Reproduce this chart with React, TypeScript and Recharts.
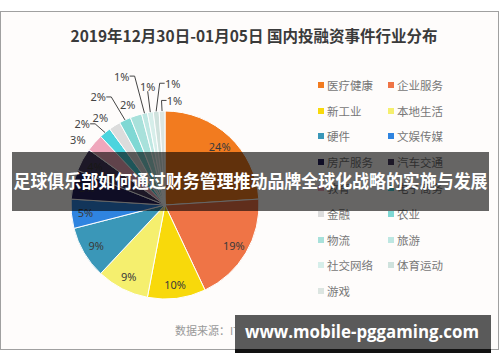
import React from "react"
import { PieChart, Pie, Cell, Legend } from "recharts"

const categories: string[] = [
  "医疗健康", "企业服务", "新工业", "本地生活", "硬件", "文娱传媒", "房产服务", "汽车交通",
  "教育", "电子商务", "金融", "农业", "物流", "旅游", "社交网络", "体育运动", "游戏",
]
const shares: number[] = [24, 19, 10, 9, 9, 5, 5, 4, 3, 2, 2, 2, 2, 1, 1, 1, 1]
const colors: string[] = [
  "#F27B1F", "#EF7446", "#F8D90B", "#F5EF6E", "#3A97B8", "#2F84E0", "#27215E", "#4A3E62",
  "#EFA7BC", "#4CD4DE", "#DCDCDC", "#7FD8D4", "#A8E1DB", "#BEE7E2", "#D6EEEA", "#CFE2DD", "#DCE5E1",
]

const TITLE = "2019年12月30日-01月05日 国内投融资事件行业分布"
const BANNER = "足球俱乐部如何通过财务管理推动品牌全球化战略的实施与发展"
const SOURCE = "数据来源：IT桔子 © Itjuzi.com"
const SITE = "www.mobile-pggaming.com"

// manual label placement for the small slices (radius, clockwise shift in degrees, leader line)
const outerLabels: Record<string, { r: number; shift: number; line: boolean }> = {
  教育: { r: 109, shift: -4.5, line: false },
  电子商务: { r: 116, shift: -6, line: true },
  金融: { r: 109, shift: -4, line: false },
  农业: { r: 127, shift: -6.5, line: true },
  物流: { r: 107, shift: -2.4, line: false },
  旅游: { r: 136, shift: -6, line: true },
  社交网络: { r: 120, shift: 0.7, line: true },
  体育运动: { r: 122, shift: 9, line: true },
  游戏: { r: 105, shift: 7, line: true },
}

const data = categories.map((name, i) => ({ name, value: shares[i] }))

const RADIAN = Math.PI / 180
const CJK = '"Noto Sans CJK SC", "Noto Sans", sans-serif'

const renderLabel = (props: any) => {
  const { cx, cy, midAngle, outerRadius, name, value } = props
  const cfg = outerLabels[name]
  const text = `${value}%`
  if (!cfg) {
    const r = outerRadius * 0.85
    const x = cx + r * Math.cos(-midAngle * RADIAN)
    const y = cy + r * Math.sin(-midAngle * RADIAN)
    return (
      <text x={x} y={y} fill="#3a3a3a" fontSize={11} fontFamily="Noto Sans" textAnchor="middle" dominantBaseline="central">
        {text}
      </text>
    )
  }
  const a = midAngle - cfg.shift
  const x = cx + cfg.r * Math.cos(-a * RADIAN)
  const y = cy + cfg.r * Math.sin(-a * RADIAN)
  const ex = cx + outerRadius * Math.cos(-midAngle * RADIAN)
  const ey = cy + outerRadius * Math.sin(-midAngle * RADIAN)
  let line = null
  if (cfg.line) {
    let pts: string
    if (Math.abs(x - ex) < 6) {
      pts = `${x},${y + 5} ${ex},${ey}`
    } else if (x < ex) {
      pts = `${x + 8},${y} ${x + 13},${y} ${ex},${ey}`
    } else {
      pts = `${x - 8},${y} ${x - 13},${y} ${ex},${ey}`
    }
    line = <polyline points={pts} fill="none" stroke="#444" strokeWidth={1} />
  }
  return (
    <g>
      {line}
      <text x={x} y={y} fill="#444" fontSize={11} fontFamily="Noto Sans" textAnchor="middle" dominantBaseline="central">
        {text}
      </text>
    </g>
  )
}

// legend keeps the slice order (the payload comes back sorted)
const renderLegend = () => (
  <div style={{ display: "grid", gridTemplateColumns: "70px 70px", gridAutoRows: "25.8px" }}>
    {categories.map((name, i) => (
      <div key={`lg-${i}`} style={{ display: "flex", alignItems: "center", height: 25.8 }}>
        <span style={{ width: 6, height: 6, background: colors[i], display: "inline-block", marginRight: 3 }} />
        <span style={{ fontFamily: CJK, fontSize: 11.5, color: "#777", lineHeight: "14px" }}>{name}</span>
      </div>
    ))}
  </div>
)

export default function App() {
  return (
    <div style={{ position: "absolute", left: 0, top: 0, width: 500, height: 362, background: "#fff", overflow: "hidden" }}>
      <div
        style={{
          position: "absolute", left: 0, top: 11, width: 497, height: 337,
          border: "1px solid #a0a0a0", background: "#fefcfb",
        }}
      />
      <div
        style={{
          position: "absolute", left: 0, top: 24, width: 508, textAlign: "center",
          fontFamily: CJK, fontWeight: 700, fontSize: 15.5, color: "#3a3a3a", lineHeight: "22px",
        }}
      >
        {TITLE}
      </div>
      <div style={{ position: "absolute", left: 0, top: 0 }}>
        <PieChart width={500} height={362}>
          <Pie
            data={data}
            dataKey="value"
            nameKey="name"
            cx={160}
            cy={200}
            outerRadius={94}
            startAngle={90}
            endAngle={-270}
            stroke="#fff"
            strokeWidth={1}
            labelLine={false}
            label={renderLabel}
            isAnimationActive={false}
          >
            {data.map((entry, index) => (
              <Cell key={`cell-${index}`} fill={colors[index % colors.length]} />
            ))}
          </Pie>
          <Legend
            content={renderLegend}
            wrapperStyle={{ position: "absolute", left: 318, top: 72, width: 150 }}
          />
        </PieChart>
      </div>
      <div
        style={{
          position: "absolute", left: 175, top: 322, fontFamily: CJK, fontSize: 11, color: "#999", lineHeight: "16px",
        }}
      >
        {SOURCE}
      </div>
      <div style={{ position: "absolute", left: 12, top: 152, width: 477, height: 59, background: "rgba(0,0,0,0.6)" }}>
        <svg width={477} height={59} style={{ display: "block" }}>
          <text
            x={1.5}
            y={36}
            textLength={474}
            lengthAdjust="spacingAndGlyphs"
            fill="#fff"
            fontFamily={CJK}
            fontWeight={700}
            fontSize={18}
          >
            {BANNER}
          </text>
        </svg>
      </div>
      <div style={{ position: "absolute", left: 235, top: 315, width: 256, height: 34, background: "#5a5a5a", borderBottom: "4px solid #111" }}>
        <svg width={256} height={34} style={{ display: "block" }}>
          <text
            x={10}
            y={23}
            textLength={234}
            lengthAdjust="spacingAndGlyphs"
            fill="#fff"
            fontFamily='"Open Sans", sans-serif'
            fontWeight={700}
            fontSize={17}
          >
            {SITE}
          </text>
        </svg>
      </div>
    </div>
  )
}
